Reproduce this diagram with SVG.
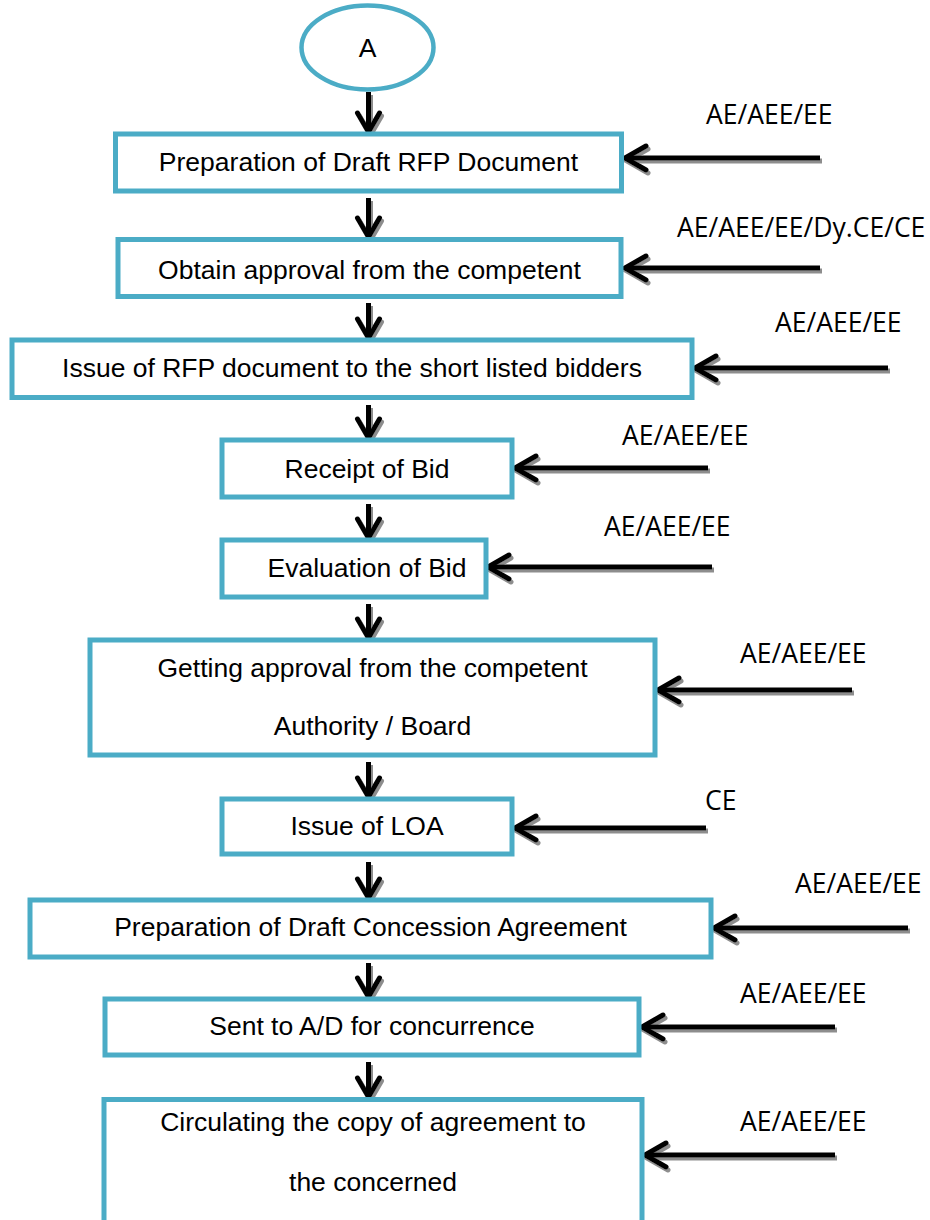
<svg xmlns="http://www.w3.org/2000/svg" width="930" height="1220" viewBox="0 0 930 1220">
  <defs>
    <style>
      .box { fill: #ffffff; stroke: #4BACC6; stroke-width: 5; }
      .txt { font-family: "Liberation Sans", Arial, sans-serif; font-size: 26.5px; fill: #000000; text-anchor: middle; }
      .lbl { font-family: "Open Sans", "Noto Sans", sans-serif; font-size: 26.5px; fill: #000000; }
      .shaft { fill: none; stroke: #000000; stroke-width: 5; }
      .head { fill: none; stroke: #000000; stroke-width: 5; stroke-linecap: round; stroke-linejoin: miter; }
    </style>
    <filter id="shadow" x="-20%" y="-20%" width="140%" height="140%">
      <feDropShadow dx="2" dy="3" stdDeviation="0.6" flood-color="#808080" flood-opacity="0.9"/>
    </filter>
  </defs>

  <rect width="930" height="1220" fill="#ffffff"/>

  <!-- connectors: vertical flow arrows and role arrows from the right -->
  <g id="connectors" filter="url(#shadow)">
    <!-- vertical arrows -->
    <g id="down-arrows">
      <path class="shaft" d="M368.5 92 V130"/>
      <path class="head" d="M357.5 113 L368.5 132 L379.5 113"/>
      <path class="shaft" d="M368.5 198 V235"/>
      <path class="head" d="M357.5 218 L368.5 237 L379.5 218"/>
      <path class="shaft" d="M368.5 303 V336"/>
      <path class="head" d="M357.5 319 L368.5 338 L379.5 319"/>
      <path class="shaft" d="M368.5 405 V436"/>
      <path class="head" d="M357.5 419 L368.5 438 L379.5 419"/>
      <path class="shaft" d="M368.5 504 V536"/>
      <path class="head" d="M357.5 519 L368.5 538 L379.5 519"/>
      <path class="shaft" d="M368.5 604 V636"/>
      <path class="head" d="M357.5 619 L368.5 638 L379.5 619"/>
      <path class="shaft" d="M368.5 762 V795"/>
      <path class="head" d="M357.5 778 L368.5 797 L379.5 778"/>
      <path class="shaft" d="M368.5 862 V896"/>
      <path class="head" d="M357.5 879 L368.5 898 L379.5 879"/>
      <path class="shaft" d="M368.5 963 V995"/>
      <path class="head" d="M357.5 978 L368.5 997 L379.5 978"/>
      <path class="shaft" d="M368.5 1062 V1095"/>
      <path class="head" d="M357.5 1078 L368.5 1097 L379.5 1078"/>
    </g>
    <!-- horizontal arrows -->
    <g id="side-arrows">
      <path class="shaft" d="M820 158 H628"/>
      <path class="head" d="M646 146 L625 158 L646 170"/>
      <path class="shaft" d="M820 268 H628"/>
      <path class="head" d="M646 256 L625 268 L646 280"/>
      <path class="shaft" d="M888 368 H698"/>
      <path class="head" d="M716 356 L695 368 L716 380"/>
      <path class="shaft" d="M708 468 H518"/>
      <path class="head" d="M536 456 L515 468 L536 480"/>
      <path class="shaft" d="M712 567 H491"/>
      <path class="head" d="M509 555 L488 567 L509 579"/>
      <path class="shaft" d="M852 690 H661"/>
      <path class="head" d="M679 678 L658 690 L679 702"/>
      <path class="shaft" d="M706 828 H518"/>
      <path class="head" d="M536 816 L515 828 L536 840"/>
      <path class="shaft" d="M908 928 H717"/>
      <path class="head" d="M735 916 L714 928 L735 940"/>
      <path class="shaft" d="M835 1027 H645"/>
      <path class="head" d="M663 1015 L642 1027 L663 1039"/>
      <path class="shaft" d="M835 1155 H648"/>
      <path class="head" d="M666 1143 L645 1155 L666 1167"/>
    </g>
  </g>

  <g id="start">
    <ellipse cx="367.5" cy="47.5" rx="66" ry="42" fill="#ffffff" stroke="#4BACC6" stroke-width="4.5"/>
    <text class="txt" x="367.5" y="57" font-size="24">A</text>
  </g>

  <g id="step1">
    <rect class="box" x="115.5" y="134" width="506" height="57"/>
    <text class="txt" x="368.5" y="171">Preparation of Draft RFP Document</text>
  </g>
  <g id="step2">
    <rect class="box" x="118" y="239.5" width="503" height="57"/>
    <text class="txt" x="369.5" y="279">Obtain approval from the competent</text>
  </g>
  <g id="step3">
    <rect class="box" x="12" y="340" width="680" height="57.5"/>
    <text class="txt" x="352" y="377">Issue of RFP document to the short listed bidders</text>
  </g>
  <g id="step4">
    <rect class="box" x="222" y="440" width="290" height="57"/>
    <text class="txt" x="367" y="478">Receipt of Bid</text>
  </g>
  <g id="step5">
    <rect class="box" x="222" y="540" width="264" height="57"/>
    <text class="txt" x="367" y="577">Evaluation of Bid</text>
  </g>
  <g id="step6">
    <rect class="box" x="90" y="640" width="565" height="115"/>
    <text class="txt" x="372.5" y="677">Getting approval from the competent</text>
    <text class="txt" x="372.5" y="735">Authority / Board</text>
  </g>
  <g id="step7">
    <rect class="box" x="222" y="799" width="290" height="55"/>
    <text class="txt" x="367" y="835">Issue of LOA</text>
  </g>
  <g id="step8">
    <rect class="box" x="30" y="900" width="681" height="57"/>
    <text class="txt" x="370.5" y="936">Preparation of Draft Concession Agreement</text>
  </g>
  <g id="step9">
    <rect class="box" x="105" y="999" width="534" height="56"/>
    <text class="txt" x="372" y="1035">Sent to A/D for concurrence</text>
  </g>
  <g id="step10">
    <rect class="box" x="104" y="1099.5" width="538" height="130"/>
    <text class="txt" x="373" y="1131">Circulating the copy of agreement to</text>
    <text class="txt" x="373" y="1191">the concerned</text>
  </g>

  <g id="roles">
    <text class="lbl" x="706" y="124">AE/AEE/EE</text>
    <text class="lbl" x="677" y="237">AE/AEE/EE/Dy.CE/CE</text>
    <text class="lbl" x="775" y="332">AE/AEE/EE</text>
    <text class="lbl" x="622" y="445">AE/AEE/EE</text>
    <text class="lbl" x="604" y="536">AE/AEE/EE</text>
    <text class="lbl" x="740" y="663">AE/AEE/EE</text>
    <text class="lbl" x="705" y="810">CE</text>
    <text class="lbl" x="795" y="893">AE/AEE/EE</text>
    <text class="lbl" x="740" y="1003">AE/AEE/EE</text>
    <text class="lbl" x="740" y="1131">AE/AEE/EE</text>
  </g>
</svg>
